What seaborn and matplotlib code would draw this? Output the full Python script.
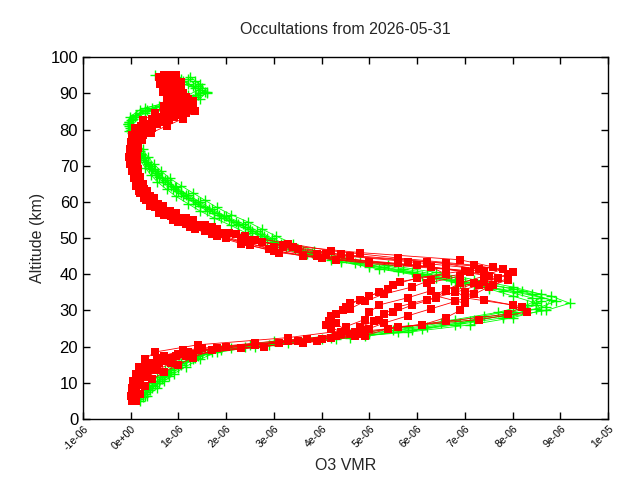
import numpy as np
import pandas as pd
import seaborn as sns
import matplotlib.pyplot as plt

# Perfiles de O3 (VMR en unidades de 1e-6, altitud en km)
alt_a = [5, 7, 9, 11, 13, 15, 17, 19, 21, 23, 25, 27, 29, 31, 33, 35, 37, 39, 41, 43,
         45, 47, 49, 51, 53, 55, 57, 59, 61, 63, 65, 67, 69, 71, 73, 75, 77, 79, 81, 83,
         85, 87, 89, 91, 93, 95]
alt_b = [6, 8, 10, 12, 14, 16, 18, 20, 22, 24, 26, 28, 30, 32, 34, 36, 38, 40, 42, 44,
         46, 48, 50, 52, 54, 56, 58, 60, 62, 64, 66, 68, 70, 72, 74, 76, 78, 80, 82, 84,
         86, 88, 90, 92, 94]
alt_c = [5.5, 7.5, 9.5, 11.5, 13.5, 15.5, 17.5, 19.5, 21.5, 23.5,
         25.5, 27.5, 29.5, 31.5, 33.5, 35.5, 37.5, 39.5, 41.5, 43.5,
         45.5, 47.5, 49.5, 51.5, 53.5, 55.5, 57.5, 59.5, 61.5, 63.5,
         65.5, 67.5, 69.5, 71.5, 73.5, 75.5, 77.5, 79.5, 81.5, 83.5,
         85.5, 87.5, 89.5, 91.5, 93.5]
alt_d = [6.5, 8.5, 10.5, 12.5, 14.5, 16.5, 18.5, 20.5, 22.5, 24.5,
         26.5, 28.5, 30.5, 32.5, 34.5, 36.5, 38.5, 40.5, 42.5, 44.5,
         46.5, 48.5, 50.5, 52.5, 54.5, 56.5, 58.5, 60.5, 62.5, 64.5,
         66.5, 68.5, 70.5, 72.5, 74.5, 76.5, 78.5, 80.5, 82.5, 84.5,
         86.5, 88.5, 90.5, 92.5, 94.5]

# perfiles verdes (cruces)
green_1 = [0.2, 0.3, 0.45, 0.65, 0.82, 1.05, 1.35, 1.9, 3.3, 4.9,
           6.1, 7.1, 8.0, 8.7, 8.8, 8.1, 7.2, 6.4, 5.6, 4.7,
           4.0, 3.45, 3.0, 2.7, 2.4, 2.05, 1.75, 1.45, 1.2, 1.0,
           0.78, 0.6, 0.45, 0.32, 0.22, 0.14, 0.07, 0.02, -0.03, 0.05,
           0.3, 0.8, 1.35, 1.45, 1.0, 0.5]
green_2 = [0.25, 0.4, 0.6, 0.8, 1.0, 1.25, 1.6, 2.6, 4.3, 5.6,
           6.8, 7.8, 8.7, 9.2, 8.8, 8.0, 7.0, 6.2, 5.3, 4.4,
           3.8, 3.3, 2.95, 2.65, 2.35, 2.0, 1.7, 1.45, 1.2, 0.95,
           0.75, 0.58, 0.42, 0.3, 0.2, 0.12, 0.06, 0.02, -0.04, 0.1,
           0.45, 1.2, 1.6, 1.3, 1.05]
green_3 = [0.15, 0.3, 0.45, 0.65, 0.85, 1.05, 1.4, 2.1, 3.6, 5.0,
           6.2, 7.2, 8.0, 8.5, 8.4, 7.8, 6.9, 6.1, 5.2, 4.4,
           3.7, 3.25, 2.85, 2.55, 2.25, 1.9, 1.6, 1.35, 1.1, 0.88,
           0.68, 0.52, 0.38, 0.27, 0.18, 0.1, 0.05, 0.0, -0.05, 0.08,
           0.35, 0.95, 1.4, 1.35, 1.1]
green_4 = [0.3, 0.45, 0.6, 0.78, 1.0, 1.3, 1.7, 2.9, 4.6, 5.9,
           6.9, 7.8, 8.5, 8.9, 8.4, 7.5, 6.7, 5.9, 5.0, 4.2,
           3.6, 3.15, 2.8, 2.5, 2.2, 1.85, 1.55, 1.3, 1.05, 0.85,
           0.65, 0.5, 0.36, 0.25, 0.16, 0.09, 0.04, -0.01, 0.0, 0.2,
           0.6, 1.3, 1.55, 1.2, 0.95]
green_5 = [0.2, 0.35, 0.5, 0.7, 0.9, 1.15, 1.5, 2.4, 4.0, 5.8,
           7.1, 8.0, 8.6, 8.5, 8.0, 7.5, 6.8, 6.0, 5.0, 4.2,
           3.65, 3.2, 2.85, 2.55, 2.25, 1.95, 1.65, 1.4, 1.15, 0.92,
           0.72, 0.55, 0.4, 0.28, 0.18, 0.11, 0.05, 0.0, -0.03, 0.12,
           0.3, 1.05, 1.45, 1.4, 1.2]
green_6 = [0.35, 0.55, 0.7, 0.9, 1.15, 1.45, 1.8, 2.5, 4.2, 5.5,
           6.5, 7.4, 8.2, 8.6, 8.6, 8.0, 7.2, 6.4, 5.4, 4.5,
           3.85, 3.4, 3.05, 2.75, 2.45, 2.1, 1.8, 1.55, 1.3, 1.05,
           0.82, 0.64, 0.48, 0.36, 0.25, 0.16, 0.1, 0.05, 0.02, 0.3,
           0.85, 1.45, 1.6, 1.45, 1.25]
green_7 = [0.18, 0.25, 0.38, 0.55, 0.72, 0.92, 1.2, 1.75, 3.0, 4.6,
           5.8, 6.8, 7.7, 8.3, 8.6, 8.2, 7.4, 6.6, 5.7, 4.8,
           3.6, 3.1, 2.7, 2.4, 2.1, 1.75, 1.45, 1.2, 0.95, 0.75,
           0.56, 0.42, 0.3, 0.2, 0.12, 0.06, 0.02, -0.03, -0.06, -0.02,
           0.2, 0.75, 1.2, 1.5, 1.35]

# perfiles rojos (cuadrados)
red_1 = [0.03, 0.08, 0.12, 0.22, 0.38, 0.6, 1.0, 2.0, 3.7, 4.4,
         4.1, 4.2, 4.45, 4.6, 5.0, 5.4, 5.65, 6.6, 6.3, 4.3,
         3.1, 2.5, 2.0, 1.55, 1.15, 0.85, 0.6, 0.4, 0.27, 0.17,
         0.1, 0.06, 0.03, 0.02, 0.03, 0.05, 0.1, 0.2, 0.45, 0.75,
         0.95, 0.95, 0.85, 0.8, 0.75]
red_2 = [0.05, 0.05, 0.1, 0.2, 0.3, 0.5, 0.8, 1.4, 3.1, 4.7,
         5.0, 5.1, 5.3, 5.6, 6.2, 6.8, 7.3, 7.7, 7.0, 5.0,
         3.6, 2.9, 2.35, 1.85, 1.4, 1.0, 0.72, 0.5, 0.35, 0.22,
         0.16, 0.1, 0.06, 0.05, 0.05, 0.07, 0.1, 0.2, 0.4, 0.7,
         0.95, 1.0, 0.9, 0.88, 0.9, 0.8]
red_3 = [0.08, 0.1, 0.15, 0.25, 0.4, 0.6, 0.95, 1.8, 3.5, 4.8,
         5.6, 7.3, 8.3, 8.0, 7.0, 6.8, 7.2, 7.5, 6.6, 5.0,
         3.9, 3.2, 2.6, 2.05, 1.55, 1.15, 0.82, 0.58, 0.4, 0.27,
         0.2, 0.14, 0.1, 0.08, 0.08, 0.1, 0.18, 0.3, 0.55, 0.9,
         1.2, 1.25, 1.05, 0.95, 0.9]
red_4 = [0.05, 0.1, 0.15, 0.25, 0.45, 0.65, 1.2, 2.6, 4.2, 4.9,
         5.3, 5.8, 6.3, 6.8, 7.2, 7.5, 7.9, 8.0, 7.2, 5.6,
         4.2, 3.3, 2.4, 1.8, 1.3, 0.95, 0.68, 0.48, 0.33, 0.22,
         0.17, 0.11, 0.08, 0.07, 0.08, 0.12, 0.25, 0.45, 0.8, 1.15,
         1.3, 1.2, 1.0, 0.95, 0.85]
red_5 = [0.02, 0.03, 0.06, 0.12, 0.2, 0.35, 0.55, 1.1, 2.6, 4.3,
         4.2, 4.15, 4.3, 4.5, 4.8, 5.2, 5.5, 6.0, 7.0, 5.6,
         3.9, 3.0, 2.3, 1.7, 1.25, 0.88, 0.6, 0.4, 0.27, 0.17,
         0.1, 0.06, 0.03, 0.02, 0.02, 0.02, 0.04, 0.1, 0.22, 0.45,
         0.7, 0.8, 0.75, 0.7, 0.72, 0.7]
red_6 = [0.03, 0.05, 0.1, 0.18, 0.3, 0.45, 0.7, 1.5, 3.3, 4.6,
         4.8, 5.2, 5.5, 5.9, 6.4, 6.6, 6.9, 7.4, 7.8, 6.2,
         4.4, 3.4, 2.5, 1.9, 1.4, 1.05, 0.75, 0.52, 0.35, 0.22,
         0.15, 0.09, 0.06, 0.04, 0.04, 0.06, 0.12, 0.25, 0.5, 0.8,
         1.05, 1.1, 0.95, 0.9, 0.85]
red_7 = [0.1, 0.12, 0.2, 0.3, 0.5, 0.75, 1.3, 2.8, 4.0, 4.7,
         6.1, 6.6, 6.9, 7.0, 6.4, 6.6, 7.4, 7.9, 7.6, 6.9,
         4.8, 3.2, 2.3, 1.7, 1.25, 0.95, 0.68, 0.46, 0.3, 0.2,
         0.15, 0.1, 0.07, 0.06, 0.06, 0.09, 0.16, 0.35, 0.65, 1.0,
         1.25, 1.3, 1.1, 1.0, 0.9]
red_8 = [0.0, 0.02, 0.05, 0.1, 0.18, 0.3, 0.5, 1.4, 3.3, 4.5,
         4.3, 4.2, 4.6, 4.9, 5.3, 5.9, 6.3, 7.1, 6.0, 4.0,
         3.0, 2.3, 1.8, 1.35, 1.0, 0.7, 0.5, 0.32, 0.2, 0.12,
         0.06, 0.02, -0.02, -0.03, -0.02, 0.0, 0.03, 0.08, 0.25, 0.5,
         0.7, 0.75, 0.68, 0.62, 0.6]
red_9 = [0.12, 0.2, 0.3, 0.45, 0.7, 1.0, 1.3, 1.7, 3.6, 4.9,
         5.4, 6.6, 7.9, 8.2, 7.4, 7.0, 7.6, 7.9, 7.4, 6.6,
         4.6, 3.5, 2.75, 2.2, 1.7, 1.3, 0.95, 0.68, 0.48, 0.34,
         0.25, 0.2, 0.16, 0.14, 0.14, 0.16, 0.24, 0.42, 0.75, 1.1,
         1.35, 1.3, 1.15, 1.05, 1.05, 0.95]
red_10 = [0.06, 0.08, 0.2, 0.35, 0.55, 0.85, 1.15, 2.3, 3.9, 4.4,
          4.5, 4.9, 5.0, 5.2, 5.8, 6.3, 6.2, 6.9, 7.3, 5.8,
          4.1, 3.0, 2.4, 1.85, 1.35, 1.0, 0.7, 0.45, 0.3, 0.2,
          0.12, 0.08, 0.04, 0.02, 0.02, 0.04, 0.08, 0.15, 0.35, 0.6,
          0.85, 0.9, 0.8, 0.78, 0.8]

profiles = [
    ('green', 'g1', alt_a, green_1),
    ('green', 'g2', alt_b, green_2),
    ('green', 'g3', alt_c, green_3),
    ('green', 'g4', alt_d, green_4),
    ('green', 'g5', alt_b, green_5),
    ('green', 'g6', alt_d, green_6),
    ('green', 'g7', alt_c, green_7),
    ('red', 'r1', alt_b, red_1),
    ('red', 'r2', alt_a, red_2),
    ('red', 'r3', alt_c, red_3),
    ('red', 'r4', alt_d, red_4),
    ('red', 'r5', alt_a, red_5),
    ('red', 'r6', alt_c, red_6),
    ('red', 'r7', alt_b, red_7),
    ('red', 'r8', alt_d, red_8),
    ('red', 'r9', alt_a, red_9),
    ('red', 'r10', alt_c, red_10),
]

rows = []
for kind, pid, alts, vals in profiles:
    for a, v in zip(alts, vals):
        rows.append({'kind': kind, 'profile': pid, 'alt': a, 'vmr': v * 1e-6})
df = pd.DataFrame(rows)

sns.set_style('ticks')
plt.rcParams['font.family'] = ['Liberation Sans', 'DejaVu Sans']

fig = plt.figure(figsize=(6.4, 4.8), dpi=100)
ax = fig.add_axes([0.1297, 0.127, 0.8203, 0.754])

# verde primero, rojo encima
sns.lineplot(data=df[df['kind'] == 'green'], x='vmr', y='alt', units='profile',
             estimator=None, sort=False, color='#00ff00', lw=0.6, marker='+',
             markersize=6.5, markeredgewidth=1.0, markeredgecolor='#00ff00', ax=ax)
sns.lineplot(data=df[df['kind'] == 'red'], x='vmr', y='alt', units='profile',
             estimator=None, sort=False, color='#ff0000', lw=0.6, marker='s',
             markersize=5.8, markeredgewidth=0, markerfacecolor='#ff0000', ax=ax)

xt = np.arange(-1e-6, 1.05e-5, 1e-6)
ax.set_xlim(-1e-6, 1e-5)
ax.set_ylim(0, 100)
ax.set_xticks(xt)
ax.set_xticklabels(['%.0e' % t if abs(t) > 1e-12 else '0e+00' for t in xt],
                   rotation=45, ha='right', rotation_mode='anchor', fontsize=7.5)
ax.set_yticks(range(0, 101, 10))
ax.tick_params(axis='y', labelsize=12)
ax.tick_params(direction='in', length=5, width=1, top=True, right=True, colors='black')
for s in ax.spines.values():
    s.set_visible(True)
    s.set_linewidth(1)
    s.set_color('black')

ax.set_xlabel('O3 VMR', fontsize=11.5)
ax.set_ylabel('Altitude (km)', fontsize=11.5)
ax.set_title('Occultations from 2026-05-31', fontsize=11.5, pad=17)

fig.savefig('out.png', dpi=100)
